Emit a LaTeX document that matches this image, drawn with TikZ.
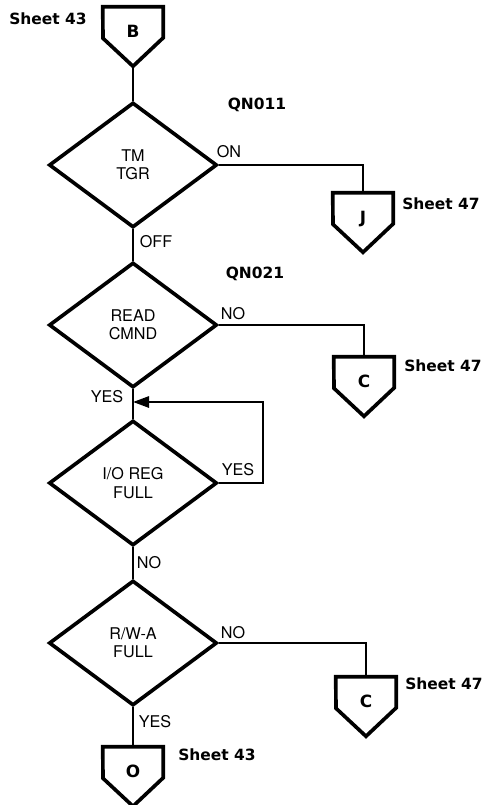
\documentclass[tikz,border=0pt]{standalone}
\usepackage{fontspec}
\setmainfont{TeX Gyre Heros}
\newfontfamily\sheetfont{DejaVu Sans}
\usepackage{tikz}
\usetikzlibrary{arrows.meta,positioning,shapes.geometric}

\begin{document}
\begin{tikzpicture}[
    x=0.025cm, y=-0.025cm,
    decision/.style={draw, diamond, line width=2.6pt, minimum width=4.2cm, minimum height=3.125cm, inner sep=0pt, align=center, font=\fontsize{11.5}{13}\selectfont},
    offpage/.style={minimum width=1.5cm, minimum height=1.475cm, inner sep=0pt, text height=9pt, text depth=8.2pt, font=\sheetfont\bfseries\fontsize{12}{14}\selectfont},
    pent/.style={line width=2.6pt},
    flow/.style={line width=1.6pt},
    lbl/.style={inner sep=0pt, font=\fontsize{11.5}{13}\selectfont},
    sheet/.style={inner sep=0pt, font=\sheetfont\bfseries\fontsize{11}{13}\selectfont}
]
\useasboundingbox (0,0) rectangle (488,805);

\node[offpage] (b) at (133,36.5) {B};
\node[decision] (tm) at (133,165) {TM\\TGR};
\node[offpage] (j) at (363,222.5) {J};
\node[decision] (rd) at (133,325) {READ\\CMND};
\node[offpage] (c1) at (364,386.5) {C};
\node[decision] (io) at (133,483) {I/O REG\\FULL};
\node[decision] (rw) at (133,643) {R/W-A\\FULL};
\node[offpage] (c2) at (366,706.5) {C};
\node[offpage] (o) at (133,776.5) {O};
\coordinate (join) at (133,402);

\foreach \n in {b,j,c1,c2,o}
    \draw[pent] (\n.north west) -- (\n.north east) -- ++(0,31) -- (\n.south) -- ++(-30,-28) -- cycle;

\node[sheet] (s1) at (48,19) {Sheet 43};
\node[sheet] (qn1) at (257,105) {QN011};
\node[lbl] (on) at (229,152) {ON};
\node[sheet] (s2) at (441,204) {Sheet 47};
\node[lbl] (off) at (156,242) {OFF};
\node[sheet] (qn2) at (255,274) {QN021};
\node[lbl] (no1) at (233,314) {NO};
\node[sheet] (s3) at (443,366) {Sheet 47};
\node[lbl] (yes1) at (107,397) {YES};
\node[lbl] (yes2) at (238,470) {YES};
\node[lbl] (no2) at (149,563) {NO};
\node[lbl] (no3) at (233,633) {NO};
\node[sheet] (s4) at (444,684) {Sheet 47};
\node[lbl] (yes3) at (155,722) {YES};
\node[sheet] (s5) at (217,755) {Sheet 43};

\draw[flow] (b.south) -- (tm.north);
\draw[flow] (tm.east) -| (j.north);
\draw[flow] (tm.south) -- (rd.north);
\draw[flow] (rd.east) -| (c1.north);
\draw[flow] (rd.south) -- (io.north);
\draw[flow, -{Triangle[length=0.4cm, width=0.28cm]}] (io.east) -- ++(44,0) |- (join);
\draw[flow] (io.south) -- (rw.north);
\draw[flow] (rw.east) -| (c2.north);
\draw[flow] (rw.south) -- (o.north);
\end{tikzpicture}
\end{document}
